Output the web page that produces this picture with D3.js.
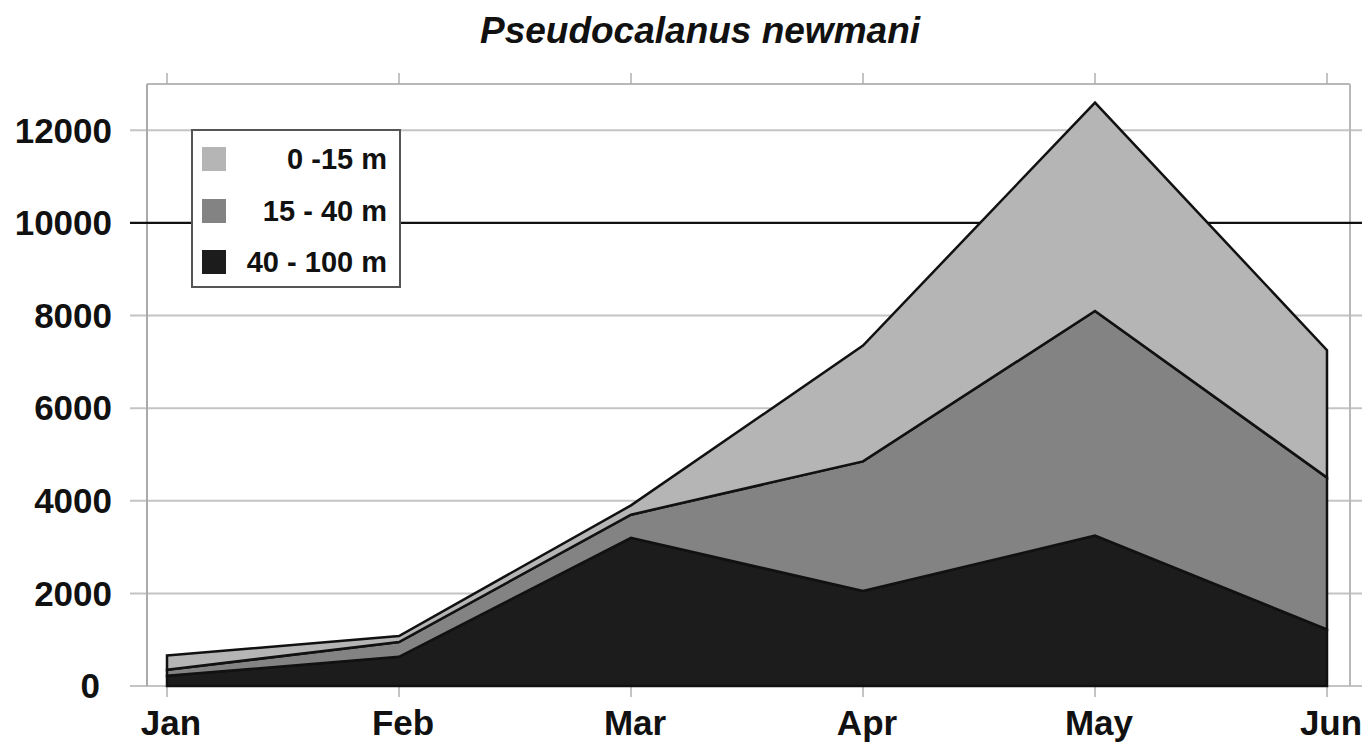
<!DOCTYPE html>
<html>
<head>
<meta charset="utf-8">
<script src="https://cdn.jsdelivr.net/npm/d3@7"></script>
<style>
  html, body { margin: 0; padding: 0; background: #fff; }
  svg { display: block; font-family: "Liberation Sans", Arial, sans-serif; }
</style>
</head>
<body>
<svg id="chart" width="1372" height="744"></svg>
<script>
// ---- data ----
const months = ["Jan", "Feb", "Mar", "Apr", "May", "Jun"];
const depth40_100 = [220, 630, 3200, 2050, 3250, 1220];
const depth15_40 = [130, 320, 500, 2800, 4850, 3280];
const depth0_15 = [310, 130, 200, 2500, 4500, 2750];
const seriesNames = ["40 - 100 m", "15 - 40 m", "0 -15 m"];
const yTicks = [0, 2000, 4000, 6000, 8000, 10000, 12000];
const yMax = 13000;
const title = "Pseudocalanus newmani";

// ---- layout ----
const svg = d3.select("#chart");
const frame = { left: 147, right: 1350, top: 84, bottom: 686 };
const x = d3.scalePoint().domain(months).range([167, 1327]);
const y = d3.scaleLinear().domain([0, yMax]).range([frame.bottom, frame.top]);

const colors = { "40 - 100 m": "#1c1c1c", "15 - 40 m": "#838383", "0 -15 m": "#b5b5b5" };

const rows = months.map((m, i) => ({
  month: m,
  "40 - 100 m": depth40_100[i],
  "15 - 40 m": depth15_40[i],
  "0 -15 m": depth0_15[i]
}));
const stack = d3.stack().keys(seriesNames)(rows);

// grid lines (with left/right tick extensions)
const grid = svg.append("g");
grid.selectAll("line.grid")
  .data(yTicks.filter(t => t !== 10000))
  .join("line")
  .attr("x1", 130).attr("x2", 1362)
  .attr("y1", d => y(d)).attr("y2", d => y(d))
  .attr("stroke", "#c4c4c4").attr("stroke-width", 2);

// frame lines
grid.append("line").attr("x1", frame.left).attr("x2", frame.right)
  .attr("y1", y(yMax)).attr("y2", y(yMax)).attr("stroke", "#b8b8b8").attr("stroke-width", 2);
grid.append("line").attr("x1", frame.left).attr("x2", frame.left)
  .attr("y1", y(yMax)).attr("y2", y(0)).attr("stroke", "#aaaaaa").attr("stroke-width", 2);
grid.append("line").attr("x1", frame.right).attr("x2", frame.right)
  .attr("y1", y(yMax)).attr("y2", y(0)).attr("stroke", "#b8b8b8").attr("stroke-width", 2);

// top and bottom month ticks
grid.selectAll("line.ttick").data(months).join("line")
  .attr("x1", d => x(d)).attr("x2", d => x(d))
  .attr("y1", y(yMax) - 11).attr("y2", y(yMax))
  .attr("stroke", "#b0b0b0").attr("stroke-width", 1.5);
grid.selectAll("line.btick").data(months).join("line")
  .attr("x1", d => x(d)).attr("x2", d => x(d))
  .attr("y1", y(0)).attr("y2", y(0) + 11)
  .attr("stroke", "#b0b0b0").attr("stroke-width", 1.5);

// dark 10000 line
svg.append("line").attr("x1", 130).attr("x2", 1362)
  .attr("y1", y(10000)).attr("y2", y(10000))
  .attr("stroke", "#111").attr("stroke-width", 2.4);

// areas
const area = d3.area()
  .x(d => x(d.data.month))
  .y0(d => y(d[0]))
  .y1(d => y(d[1]));

svg.append("g").selectAll("path")
  .data(stack)
  .join("path")
  .attr("d", area)
  .attr("fill", d => colors[d.key])
  .attr("stroke", "#111")
  .attr("stroke-width", 2.5)
  .attr("stroke-linejoin", "miter");

// y axis labels
svg.append("g").selectAll("text")
  .data(yTicks).join("text")
  .attr("x", d => d === 0 ? 100 : 112).attr("y", d => y(d))
  .attr("dy", "0.35em")
  .attr("text-anchor", "end")
  .attr("font-size", 35).attr("font-weight", "bold").attr("fill", "#111")
  .text(d => d);

// x axis labels
svg.append("g").selectAll("text")
  .data(months).join("text")
  .attr("x", d => x(d) + 4).attr("y", 735)
  .attr("text-anchor", "middle")
  .attr("font-size", 35).attr("font-weight", "bold").attr("fill", "#111")
  .text(d => d);

// title
svg.append("text")
  .attr("x", 700).attr("y", 43)
  .attr("text-anchor", "middle")
  .attr("font-size", 37).attr("font-weight", "bold").attr("font-style", "italic")
  .attr("fill", "#111")
  .text(title);

// legend
const legend = svg.append("g");
legend.append("rect")
  .attr("x", 192).attr("y", 130).attr("width", 208).attr("height", 157)
  .attr("fill", "#fff").attr("stroke", "#555").attr("stroke-width", 2);
const legendOrder = ["0 -15 m", "15 - 40 m", "40 - 100 m"];
const ly = [159, 211, 262];
legendOrder.forEach((k, i) => {
  legend.append("rect")
    .attr("x", 202).attr("y", ly[i] - 12).attr("width", 24).attr("height", 24)
    .attr("fill", colors[k]);
  legend.append("text")
    .attr("x", 387).attr("y", ly[i]).attr("dy", "0.35em")
    .attr("text-anchor", "end")
    .attr("font-size", 29).attr("font-weight", "bold").attr("fill", "#111")
    .text(k);
});
</script>
</body>
</html>
